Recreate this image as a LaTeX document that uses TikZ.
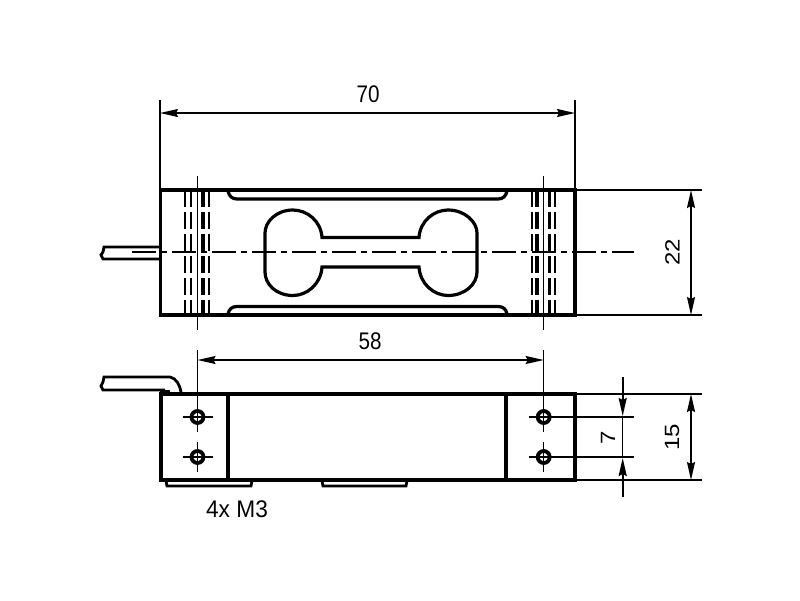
\documentclass[tikz,border=0pt]{standalone}
\usepackage{fontspec}
\setmainfont{Liberation Sans}
\usetikzlibrary{arrows.meta}
\tikzset{
  x=1pt,y=-1pt,
  outline/.style={line width=3.2pt,black},
  thinline/.style={line width=1.5pt,black},
  dimline/.style={line width=1.7pt,black},
  dimarrow/.style={dimline,{Stealth[length=18pt,width=8pt,inset=2pt]}-{Stealth[length=18pt,width=8pt,inset=2pt]}},
  inarrow/.style={line width=2pt,black},
  hid/.style={dash pattern=on 17pt off 5pt},
  centerl/.style={line width=1.7pt,black,dash pattern=on 24pt off 5pt on 6pt off 5pt},
  lab/.style={font=\fontsize{24}{26}\selectfont,xscale=.86,text=black,inner sep=0pt},
}
\begin{document}
\begin{tikzpicture}
\useasboundingbox (0,0) rectangle (800,600);
\fill[white] (0,0) rectangle (800,600);

% ---- top view: cable
\draw[outline,line width=2.8pt] (160,247) -- (104,247) -- (103,252) -- (101,255) -- (103,259) -- (160,259);

% ---- top view: hidden thread lines
\foreach \xx/\w in {185/2.6,191/2.8,203/4.2,208.7/1.8,532/2.6,537/4.2,549/3,555/2.4}
  \draw[line width=\w pt,black,hid] (\xx,190) -- (\xx,315);

% ---- top view: body
\draw[outline] (160.5,190) rectangle (575,315);
\draw[outline,line width=3.8pt] (575,190) -- (575,315);

% ---- top view: pockets
\draw[outline] (228,191) .. controls (229,196) and (232,199) .. (237,199) -- (498,199) .. controls (503,199) and (506,196) .. (507,191);
\draw[outline] (228,314) .. controls (229,309) and (232,306.5) .. (237,306.5) -- (498,306.5) .. controls (503,306.5) and (506,309) .. (507,314);

% ---- top view: bone cut-out
\draw[outline] (322,237.5) -- (419,237.5)
  .. controls (420,221) and (434,210) .. (448,210)
  .. controls (465,210) and (477,222) .. (477,233)
  -- (477,272)
  .. controls (477,284) and (465,295.5) .. (448,295.5)
  .. controls (434,295.5) and (420,284) .. (419,267)
  -- (322,267)
  .. controls (321,284) and (307,295.5) .. (293,295.5)
  .. controls (276,295.5) and (265,284) .. (265,272)
  -- (265,233)
  .. controls (265,222) and (276,210) .. (293,210)
  .. controls (307,210) and (321,221) .. (322,237.5) -- cycle;

% ---- centre lines
\draw[centerl] (132,252) -- (634,252);
\draw[thinline] (197.5,176) -- (197.5,330);
\draw[thinline] (543.7,176) -- (543.7,330);

% ---- dimension 70
\draw[thinline] (160,100) -- (160,190);
\draw[thinline] (575,100) -- (575,190);
\coordinate (a70) at (160,113);
\coordinate (b70) at (575,113);
\draw[dimarrow] (a70) -- (b70);
\node[lab] (t70) at (368,94) {70};

% ---- dimension 22
\draw[thinline] (575,190) -- (702,190);
\draw[thinline] (575,315) -- (702,315);
\coordinate (a22) at (691,190);
\coordinate (b22) at (691,315);
\draw[dimarrow] (a22) -- (b22);
\node[lab,rotate=90] (t22) at (672.5,252.5) {22};

% ---- side view: cable
\draw[outline,line width=2.8pt] (165,390) -- (103,390) -- (101,386) -- (103,382) -- (104,377) -- (170,377)
  .. controls (176,378) and (180,385) .. (181,392);
\draw[outline] (160,391.5) -- (170,391.5);

% ---- side view: feet
\draw[outline,line width=2.8pt] (166,481) -- (167,486) -- (251,486) -- (252,481);
\draw[outline,line width=2.8pt] (322,481) -- (323,486) -- (406,486) -- (407,481);

% ---- side view: body
\draw[outline] (161,394) rectangle (575,480);
\draw[outline,line width=3.8pt] (575,394) -- (575,480);
\draw[outline] (228,394) -- (228,480);
\draw[outline] (506,394) -- (506,480);

% ---- dimension 15 / 7 extension lines
\draw[thinline] (575,394) -- (702,394);
\draw[thinline] (575,480) -- (702,480);
\draw[thinline] (543.7,417) -- (634,417);
\draw[thinline] (543.7,457) -- (634,457);

% ---- holes
\foreach \xx in {197.5,543.7}{
  \foreach \yy in {417,457}{
    \draw[line width=3.8pt,black] (\xx,\yy) circle (6);
    \draw[thinline] (\xx-15,\yy) -- (\xx+15,\yy);
    \draw[thinline] (\xx,\yy-15) -- (\xx,\yy+15);
  }
}

% ---- dimension 58
\draw[thinline] (197.5,350) -- (197.5,402);
\draw[thinline] (543.7,350) -- (543.7,402);
\coordinate (a58) at (197.5,360);
\coordinate (b58) at (543.7,360);
\draw[dimarrow] (a58) -- (b58);
\node[lab] (t58) at (370,341) {58};

% ---- dimension 15
\coordinate (a15) at (691,394);
\coordinate (b15) at (691,480);
\draw[dimarrow] (a15) -- (b15);
\node[lab,rotate=90] (t15) at (672,437) {15};

% ---- dimension 7
\coordinate (a7) at (622.7,377);
\coordinate (c7) at (622.7,416);
\coordinate (d7) at (622.7,458);
\coordinate (b7) at (622.7,497);
\draw[inarrow,-{Stealth[length=18pt,width=8pt,inset=2pt]}] (a7) -- (c7);
\draw[inarrow,-{Stealth[length=18pt,width=8pt,inset=2pt]}] (b7) -- (d7);
\draw[thinline] (c7) -- (d7);
\node[lab,rotate=90,fill=white,inner sep=1pt] (t7) at (608,437.5) {7};

% ---- thread label
\node[lab,xscale=1.1] (tm3) at (237,509) {4x M3};
\end{tikzpicture}
\end{document}
